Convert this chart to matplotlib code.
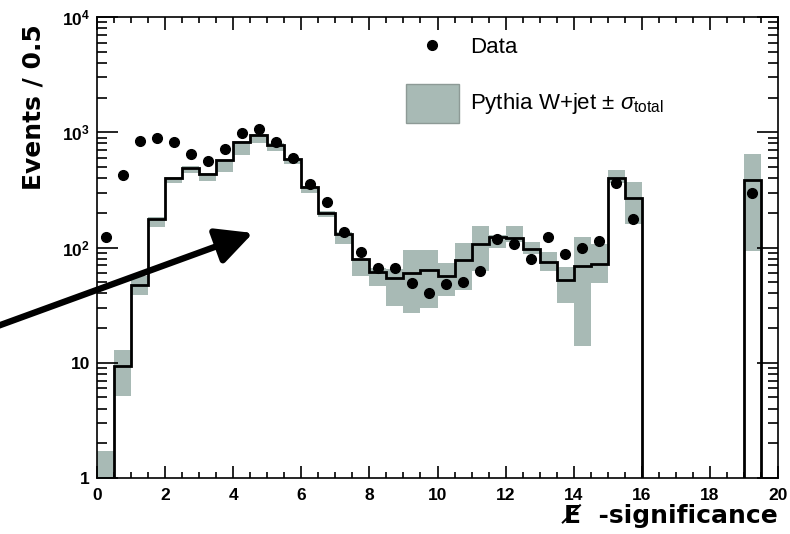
import numpy as np
import matplotlib
matplotlib.use("Agg")
import matplotlib.pyplot as plt
from matplotlib.lines import Line2D
from matplotlib.patches import Rectangle
from matplotlib.ticker import FixedLocator, FixedFormatter, LogLocator, MultipleLocator, NullFormatter

plt.rcParams["font.family"] = ["Liberation Sans", "DejaVu Sans"]
plt.rcParams["mathtext.fontset"] = "custom"
plt.rcParams["mathtext.rm"] = "Liberation Sans"
plt.rcParams["mathtext.it"] = "Liberation Sans:italic"
plt.rcParams["mathtext.bf"] = "Liberation Sans:bold"

# 0.5-wide bins from 0 to 20
edges = np.arange(0, 20.5, 0.5)

mc = [0.8, 9.3, 47, 177, 404, 493, 437, 571, 826, 944,
      772, 583, 335, 200, 131, 79, 61, 54, 60, 64,
      57, 78, 108, 124, 121, 98, 75, 52, 69, 72,
      401, 268, 0, 0, 0, 0, 0, 0, 382, 0]
band_lo = [0.5, 5.1, 39, 152, 360, 440, 380, 450, 630, 800,
           690, 530, 295, 183, 108, 57, 46, 31, 27, 30,
           38, 43, 63, 100, 111, 87, 62, 33, 14, 49,
           360, 160, 0, 0, 0, 0, 0, 0, 94, 0]
band_hi = [1.7, 13, 57, 185, 412, 505, 440, 580, 840, 960,
           800, 590, 340, 206, 135, 80, 67, 65, 95, 95,
           74, 110, 155, 128, 155, 112, 92, 68, 123, 107,
           470, 370, 0, 0, 0, 0, 0, 0, 650, 0]
data = [123, 428, 842, 900, 826, 653, 564, 722, 989, 1057,
        826, 599, 357, 250, 136, 92, 67, 66, 49, 40,
        48, 50, 63, 119, 107, 80, 124, 88, 100, 115,
        365, 177, 0, 0, 0, 0, 0, 0, 298, 0]

band_color = "#a8bab5"

mc = np.array(mc, dtype=float)
band_lo = np.array(band_lo, dtype=float)
band_hi = np.array(band_hi, dtype=float)
data = np.array(data, dtype=float)
centers = 0.5 * (edges[:-1] + edges[1:])

W, H = 790, 534
fig = plt.figure(figsize=(W / 100, H / 100), dpi=100)
ax = fig.add_axes([97 / W, 1 - 478 / H, 681 / W, 461 / H])
ax.set_yscale("log")


def fpos(px, py):
    # pixel position measured from the top-left corner -> figure fraction
    return px / W, 1 - py / H


# systematic band
has_band = band_hi > 0
ax.bar(centers[has_band], band_hi[has_band] - band_lo[has_band], bottom=band_lo[has_band],
       width=0.5, color=band_color, edgecolor="none", zorder=1)

# MC histogram outline (empty bins pushed below the axis)
mc_plot = np.where(mc > 0, mc, 1e-2)
ax.stairs(mc_plot, edges, baseline=None, color="black", lw=2.0, zorder=2)

# data points
sel = data > 0
ax.errorbar(centers[sel], data[sel], xerr=0.12, fmt="o", color="black",
            ms=7, lw=1.2, capsize=0, zorder=3)

ax.set_xlim(0, 20)
ax.set_ylim(1, 1e4)

ax.xaxis.set_major_locator(MultipleLocator(2))
ax.xaxis.set_minor_locator(MultipleLocator(0.5))
ax.yaxis.set_major_locator(FixedLocator([1, 10, 100, 1000, 10000]))
ax.yaxis.set_major_formatter(FixedFormatter(["1", "10", r"$\mathbf{10^{2}}$",
                                             r"$\mathbf{10^{3}}$", r"$\mathbf{10^{4}}$"]))
ax.yaxis.set_minor_locator(LogLocator(base=10, subs=np.arange(2, 10)))
ax.yaxis.set_minor_formatter(NullFormatter())

ax.tick_params(which="both", direction="in", top=True, right=True, width=1.2)
ax.tick_params(axis="x", which="major", length=9, pad=7)
ax.tick_params(axis="x", which="minor", length=4.5)
ax.tick_params(axis="y", which="major", length=15, pad=5)
ax.tick_params(axis="y", which="minor", length=7)
for lab in ax.get_xticklabels() + ax.get_yticklabels():
    lab.set_fontweight("bold")
    lab.set_fontsize(12.5)
for sp in ax.spines.values():
    sp.set_linewidth(1.2)

ax.set_ylabel("Events / 0.5", loc="top", fontsize=18, fontweight="bold",
              family="DejaVu Sans")
ax.yaxis.set_label_coords(-0.076, 0.985)
ax.set_xlabel("E\u0338  -significance", loc="right", fontsize=18, fontweight="bold",
              family="DejaVu Sans")
ax.xaxis.set_label_coords(1.0, -0.056)

# legend, laid out by hand
fig.add_artist(Line2D([fpos(432, 45)[0]], [fpos(432, 45)[1]], marker="o", ls="none",
                      color="black", ms=7, transform=fig.transFigure))
fig.text(*fpos(470, 53), "Data", fontsize=16, va="baseline", ha="left")
x0, y0 = fpos(406, 123)
x1, y1 = fpos(459, 84)
fig.add_artist(Rectangle((x0, y0), x1 - x0, y1 - y0, transform=fig.transFigure,
                         facecolor=band_color, edgecolor="#8d9a96", lw=1))
fig.text(*fpos(470, 108.5), r"Pythia W+jet $\pm$ $\sigma_{\rm total}$", fontsize=16,
         va="baseline", ha="left")

# arrow pointing at the peak
ax.annotate("", xy=(253, H - 233), xytext=(-5, H - 327),
            xycoords="figure pixels", textcoords="figure pixels",
            arrowprops=dict(arrowstyle="-|>,head_length=2.2,head_width=1.1",
                            mutation_scale=10, lw=4.6, color="black",
                            shrinkA=0, shrinkB=0),
            annotation_clip=False, zorder=10)

fig.savefig("out.png", dpi=100)
